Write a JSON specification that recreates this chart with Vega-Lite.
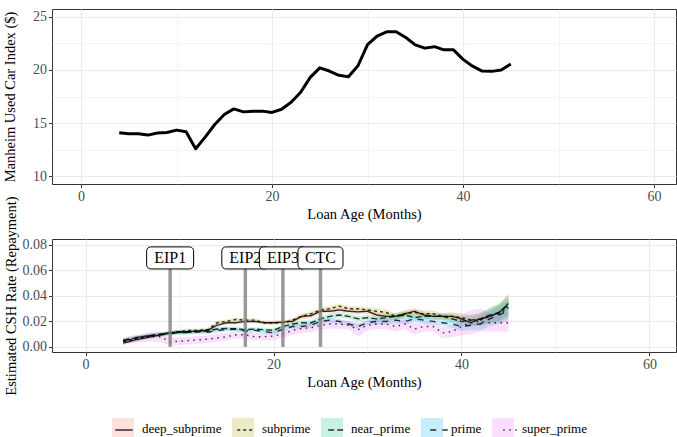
{
  "$schema": "https://vega.github.io/schema/vega-lite/v6.json",
  "background": "white",
  "padding": {"left": 2, "top": 8, "right": 0, "bottom": 0},
  "datasets": {
    "manheim": [
      {"m": 4, "idx": 14.08}, {"m": 5, "idx": 13.98}, {"m": 6, "idx": 13.98}, {"m": 7, "idx": 13.86},
      {"m": 8, "idx": 14.05}, {"m": 9, "idx": 14.1}, {"m": 10, "idx": 14.33}, {"m": 11, "idx": 14.17},
      {"m": 12, "idx": 12.57}, {"m": 13, "idx": 13.67}, {"m": 14, "idx": 14.86}, {"m": 15, "idx": 15.8},
      {"m": 16, "idx": 16.33}, {"m": 17, "idx": 16.05}, {"m": 18, "idx": 16.12}, {"m": 19, "idx": 16.12},
      {"m": 20, "idx": 16.0}, {"m": 21, "idx": 16.3}, {"m": 22, "idx": 16.95}, {"m": 23, "idx": 17.9},
      {"m": 24, "idx": 19.3}, {"m": 25, "idx": 20.2}, {"m": 26, "idx": 19.9}, {"m": 27, "idx": 19.5},
      {"m": 28, "idx": 19.36}, {"m": 29, "idx": 20.4}, {"m": 30, "idx": 22.4}, {"m": 31, "idx": 23.2},
      {"m": 32, "idx": 23.6}, {"m": 33, "idx": 23.6}, {"m": 34, "idx": 23.06}, {"m": 35, "idx": 22.37},
      {"m": 36, "idx": 22.06}, {"m": 37, "idx": 22.2}, {"m": 38, "idx": 21.9}, {"m": 39, "idx": 21.9},
      {"m": 40, "idx": 21.0}, {"m": 41, "idx": 20.36}, {"m": 42, "idx": 19.9}, {"m": 43, "idx": 19.87},
      {"m": 44, "idx": 20.0}, {"m": 45, "idx": 20.56}
    ],
    "events": [
      {"event": "EIP1", "m": 9},
      {"event": "EIP2", "m": 17},
      {"event": "EIP3", "m": 21},
      {"event": "CTC", "m": 25}
    ],
    "csh": [
      {"m":4,"g":"deep_subprime","k":1,"v":0.003,"lo":0.0015,"hi":0.0045},
      {"m":5,"g":"deep_subprime","k":1,"v":0.005,"lo":0.0035,"hi":0.0065},
      {"m":6,"g":"deep_subprime","k":1,"v":0.0065,"lo":0.005,"hi":0.008},
      {"m":7,"g":"deep_subprime","k":1,"v":0.008,"lo":0.0065,"hi":0.0095},
      {"m":8,"g":"deep_subprime","k":1,"v":0.0095,"lo":0.008,"hi":0.011},
      {"m":9,"g":"deep_subprime","k":1,"v":0.011,"lo":0.0095,"hi":0.0125},
      {"m":10,"g":"deep_subprime","k":1,"v":0.012,"lo":0.0105,"hi":0.0135},
      {"m":11,"g":"deep_subprime","k":1,"v":0.012,"lo":0.0105,"hi":0.0135},
      {"m":12,"g":"deep_subprime","k":1,"v":0.0125,"lo":0.011,"hi":0.014},
      {"m":13,"g":"deep_subprime","k":1,"v":0.013,"lo":0.0115,"hi":0.0145},
      {"m":14,"g":"deep_subprime","k":1,"v":0.017,"lo":0.0155,"hi":0.0185},
      {"m":15,"g":"deep_subprime","k":1,"v":0.019,"lo":0.0175,"hi":0.0205},
      {"m":16,"g":"deep_subprime","k":1,"v":0.019,"lo":0.0175,"hi":0.0205},
      {"m":17,"g":"deep_subprime","k":1,"v":0.02,"lo":0.0185,"hi":0.0215},
      {"m":18,"g":"deep_subprime","k":1,"v":0.02,"lo":0.0185,"hi":0.0215},
      {"m":19,"g":"deep_subprime","k":1,"v":0.019,"lo":0.0175,"hi":0.0205},
      {"m":20,"g":"deep_subprime","k":1,"v":0.019,"lo":0.0175,"hi":0.0205},
      {"m":21,"g":"deep_subprime","k":1,"v":0.0195,"lo":0.018,"hi":0.021},
      {"m":22,"g":"deep_subprime","k":1,"v":0.02,"lo":0.0185,"hi":0.0215},
      {"m":23,"g":"deep_subprime","k":1,"v":0.024,"lo":0.022,"hi":0.026},
      {"m":24,"g":"deep_subprime","k":1,"v":0.0245,"lo":0.0225,"hi":0.0265},
      {"m":25,"g":"deep_subprime","k":1,"v":0.028,"lo":0.026,"hi":0.03},
      {"m":26,"g":"deep_subprime","k":1,"v":0.028,"lo":0.026,"hi":0.03},
      {"m":27,"g":"deep_subprime","k":1,"v":0.029,"lo":0.027,"hi":0.031},
      {"m":28,"g":"deep_subprime","k":1,"v":0.028,"lo":0.026,"hi":0.03},
      {"m":29,"g":"deep_subprime","k":1,"v":0.0275,"lo":0.0255,"hi":0.0295},
      {"m":30,"g":"deep_subprime","k":1,"v":0.028,"lo":0.026,"hi":0.03},
      {"m":31,"g":"deep_subprime","k":1,"v":0.025,"lo":0.0225,"hi":0.0275},
      {"m":32,"g":"deep_subprime","k":1,"v":0.024,"lo":0.0215,"hi":0.0265},
      {"m":33,"g":"deep_subprime","k":1,"v":0.024,"lo":0.0215,"hi":0.0265},
      {"m":34,"g":"deep_subprime","k":1,"v":0.026,"lo":0.0235,"hi":0.0285},
      {"m":35,"g":"deep_subprime","k":1,"v":0.028,"lo":0.0255,"hi":0.0305},
      {"m":36,"g":"deep_subprime","k":1,"v":0.025,"lo":0.0225,"hi":0.0275},
      {"m":37,"g":"deep_subprime","k":1,"v":0.024,"lo":0.0215,"hi":0.0265},
      {"m":38,"g":"deep_subprime","k":1,"v":0.024,"lo":0.0215,"hi":0.0265},
      {"m":39,"g":"deep_subprime","k":1,"v":0.024,"lo":0.021,"hi":0.027},
      {"m":40,"g":"deep_subprime","k":1,"v":0.022,"lo":0.019,"hi":0.025},
      {"m":41,"g":"deep_subprime","k":1,"v":0.019,"lo":0.0155,"hi":0.0225},
      {"m":42,"g":"deep_subprime","k":1,"v":0.022,"lo":0.018,"hi":0.026},
      {"m":43,"g":"deep_subprime","k":1,"v":0.024,"lo":0.019,"hi":0.029},
      {"m":44,"g":"deep_subprime","k":1,"v":0.027,"lo":0.021,"hi":0.033},
      {"m":45,"g":"deep_subprime","k":1,"v":0.034,"lo":0.026,"hi":0.042},

      {"m":4,"g":"subprime","k":2,"v":0.004,"lo":0.0025,"hi":0.0055},
      {"m":5,"g":"subprime","k":2,"v":0.006,"lo":0.0045,"hi":0.0075},
      {"m":6,"g":"subprime","k":2,"v":0.0075,"lo":0.006,"hi":0.009},
      {"m":7,"g":"subprime","k":2,"v":0.009,"lo":0.0075,"hi":0.0105},
      {"m":8,"g":"subprime","k":2,"v":0.01,"lo":0.0085,"hi":0.0115},
      {"m":9,"g":"subprime","k":2,"v":0.011,"lo":0.0095,"hi":0.0125},
      {"m":10,"g":"subprime","k":2,"v":0.012,"lo":0.0105,"hi":0.0135},
      {"m":11,"g":"subprime","k":2,"v":0.013,"lo":0.0115,"hi":0.0145},
      {"m":12,"g":"subprime","k":2,"v":0.013,"lo":0.0115,"hi":0.0145},
      {"m":13,"g":"subprime","k":2,"v":0.0135,"lo":0.012,"hi":0.015},
      {"m":14,"g":"subprime","k":2,"v":0.019,"lo":0.0175,"hi":0.0205},
      {"m":15,"g":"subprime","k":2,"v":0.02,"lo":0.0185,"hi":0.0215},
      {"m":16,"g":"subprime","k":2,"v":0.0215,"lo":0.02,"hi":0.023},
      {"m":17,"g":"subprime","k":2,"v":0.021,"lo":0.0195,"hi":0.0225},
      {"m":18,"g":"subprime","k":2,"v":0.021,"lo":0.0195,"hi":0.0225},
      {"m":19,"g":"subprime","k":2,"v":0.019,"lo":0.0175,"hi":0.0205},
      {"m":20,"g":"subprime","k":2,"v":0.019,"lo":0.0175,"hi":0.0205},
      {"m":21,"g":"subprime","k":2,"v":0.019,"lo":0.0175,"hi":0.0205},
      {"m":22,"g":"subprime","k":2,"v":0.021,"lo":0.0195,"hi":0.0225},
      {"m":23,"g":"subprime","k":2,"v":0.024,"lo":0.022,"hi":0.026},
      {"m":24,"g":"subprime","k":2,"v":0.026,"lo":0.024,"hi":0.028},
      {"m":25,"g":"subprime","k":2,"v":0.029,"lo":0.027,"hi":0.031},
      {"m":26,"g":"subprime","k":2,"v":0.03,"lo":0.028,"hi":0.032},
      {"m":27,"g":"subprime","k":2,"v":0.032,"lo":0.03,"hi":0.034},
      {"m":28,"g":"subprime","k":2,"v":0.03,"lo":0.028,"hi":0.032},
      {"m":29,"g":"subprime","k":2,"v":0.03,"lo":0.028,"hi":0.032},
      {"m":30,"g":"subprime","k":2,"v":0.029,"lo":0.027,"hi":0.031},
      {"m":31,"g":"subprime","k":2,"v":0.028,"lo":0.0255,"hi":0.0305},
      {"m":32,"g":"subprime","k":2,"v":0.027,"lo":0.0245,"hi":0.0295},
      {"m":33,"g":"subprime","k":2,"v":0.024,"lo":0.0215,"hi":0.0265},
      {"m":34,"g":"subprime","k":2,"v":0.026,"lo":0.0235,"hi":0.0285},
      {"m":35,"g":"subprime","k":2,"v":0.027,"lo":0.0245,"hi":0.0295},
      {"m":36,"g":"subprime","k":2,"v":0.026,"lo":0.0235,"hi":0.0285},
      {"m":37,"g":"subprime","k":2,"v":0.026,"lo":0.0235,"hi":0.0285},
      {"m":38,"g":"subprime","k":2,"v":0.024,"lo":0.0215,"hi":0.0265},
      {"m":39,"g":"subprime","k":2,"v":0.024,"lo":0.021,"hi":0.027},
      {"m":40,"g":"subprime","k":2,"v":0.023,"lo":0.0195,"hi":0.0265},
      {"m":41,"g":"subprime","k":2,"v":0.021,"lo":0.017,"hi":0.025},
      {"m":42,"g":"subprime","k":2,"v":0.021,"lo":0.016,"hi":0.026},
      {"m":43,"g":"subprime","k":2,"v":0.024,"lo":0.018,"hi":0.03},
      {"m":44,"g":"subprime","k":2,"v":0.026,"lo":0.019,"hi":0.033},
      {"m":45,"g":"subprime","k":2,"v":0.031,"lo":0.023,"hi":0.039},

      {"m":4,"g":"near_prime","k":3,"v":0.005,"lo":0.0035,"hi":0.0065},
      {"m":5,"g":"near_prime","k":3,"v":0.0065,"lo":0.005,"hi":0.008},
      {"m":6,"g":"near_prime","k":3,"v":0.008,"lo":0.0065,"hi":0.0095},
      {"m":7,"g":"near_prime","k":3,"v":0.009,"lo":0.0075,"hi":0.0105},
      {"m":8,"g":"near_prime","k":3,"v":0.01,"lo":0.0085,"hi":0.0115},
      {"m":9,"g":"near_prime","k":3,"v":0.011,"lo":0.0095,"hi":0.0125},
      {"m":10,"g":"near_prime","k":3,"v":0.0115,"lo":0.01,"hi":0.013},
      {"m":11,"g":"near_prime","k":3,"v":0.0115,"lo":0.01,"hi":0.013},
      {"m":12,"g":"near_prime","k":3,"v":0.012,"lo":0.0105,"hi":0.0135},
      {"m":13,"g":"near_prime","k":3,"v":0.0125,"lo":0.011,"hi":0.014},
      {"m":14,"g":"near_prime","k":3,"v":0.014,"lo":0.0125,"hi":0.0155},
      {"m":15,"g":"near_prime","k":3,"v":0.0145,"lo":0.013,"hi":0.016},
      {"m":16,"g":"near_prime","k":3,"v":0.014,"lo":0.0125,"hi":0.0155},
      {"m":17,"g":"near_prime","k":3,"v":0.0135,"lo":0.012,"hi":0.015},
      {"m":18,"g":"near_prime","k":3,"v":0.014,"lo":0.0125,"hi":0.0155},
      {"m":19,"g":"near_prime","k":3,"v":0.0135,"lo":0.012,"hi":0.015},
      {"m":20,"g":"near_prime","k":3,"v":0.013,"lo":0.0115,"hi":0.0145},
      {"m":21,"g":"near_prime","k":3,"v":0.016,"lo":0.0145,"hi":0.0175},
      {"m":22,"g":"near_prime","k":3,"v":0.018,"lo":0.0165,"hi":0.0195},
      {"m":23,"g":"near_prime","k":3,"v":0.019,"lo":0.017,"hi":0.021},
      {"m":24,"g":"near_prime","k":3,"v":0.019,"lo":0.017,"hi":0.021},
      {"m":25,"g":"near_prime","k":3,"v":0.022,"lo":0.02,"hi":0.024},
      {"m":26,"g":"near_prime","k":3,"v":0.024,"lo":0.022,"hi":0.026},
      {"m":27,"g":"near_prime","k":3,"v":0.025,"lo":0.023,"hi":0.027},
      {"m":28,"g":"near_prime","k":3,"v":0.024,"lo":0.022,"hi":0.026},
      {"m":29,"g":"near_prime","k":3,"v":0.022,"lo":0.02,"hi":0.024},
      {"m":30,"g":"near_prime","k":3,"v":0.023,"lo":0.021,"hi":0.025},
      {"m":31,"g":"near_prime","k":3,"v":0.022,"lo":0.0195,"hi":0.0245},
      {"m":32,"g":"near_prime","k":3,"v":0.023,"lo":0.0205,"hi":0.0255},
      {"m":33,"g":"near_prime","k":3,"v":0.024,"lo":0.0215,"hi":0.0265},
      {"m":34,"g":"near_prime","k":3,"v":0.025,"lo":0.0225,"hi":0.0275},
      {"m":35,"g":"near_prime","k":3,"v":0.023,"lo":0.0205,"hi":0.0255},
      {"m":36,"g":"near_prime","k":3,"v":0.024,"lo":0.0215,"hi":0.0265},
      {"m":37,"g":"near_prime","k":3,"v":0.024,"lo":0.0215,"hi":0.0265},
      {"m":38,"g":"near_prime","k":3,"v":0.024,"lo":0.0215,"hi":0.0265},
      {"m":39,"g":"near_prime","k":3,"v":0.022,"lo":0.019,"hi":0.025},
      {"m":40,"g":"near_prime","k":3,"v":0.02,"lo":0.0165,"hi":0.0235},
      {"m":41,"g":"near_prime","k":3,"v":0.021,"lo":0.017,"hi":0.025},
      {"m":42,"g":"near_prime","k":3,"v":0.022,"lo":0.017,"hi":0.027},
      {"m":43,"g":"near_prime","k":3,"v":0.025,"lo":0.019,"hi":0.031},
      {"m":44,"g":"near_prime","k":3,"v":0.027,"lo":0.02,"hi":0.034},
      {"m":45,"g":"near_prime","k":3,"v":0.033,"lo":0.025,"hi":0.041},

      {"m":4,"g":"prime","k":4,"v":0.005,"lo":0.0035,"hi":0.0065},
      {"m":5,"g":"prime","k":4,"v":0.007,"lo":0.0055,"hi":0.0085},
      {"m":6,"g":"prime","k":4,"v":0.008,"lo":0.0065,"hi":0.0095},
      {"m":7,"g":"prime","k":4,"v":0.009,"lo":0.0075,"hi":0.0105},
      {"m":8,"g":"prime","k":4,"v":0.0095,"lo":0.008,"hi":0.011},
      {"m":9,"g":"prime","k":4,"v":0.0105,"lo":0.009,"hi":0.012},
      {"m":10,"g":"prime","k":4,"v":0.011,"lo":0.0095,"hi":0.0125},
      {"m":11,"g":"prime","k":4,"v":0.0115,"lo":0.01,"hi":0.013},
      {"m":12,"g":"prime","k":4,"v":0.012,"lo":0.0105,"hi":0.0135},
      {"m":13,"g":"prime","k":4,"v":0.0115,"lo":0.01,"hi":0.013},
      {"m":14,"g":"prime","k":4,"v":0.013,"lo":0.0115,"hi":0.0145},
      {"m":15,"g":"prime","k":4,"v":0.0135,"lo":0.012,"hi":0.015},
      {"m":16,"g":"prime","k":4,"v":0.014,"lo":0.0125,"hi":0.0155},
      {"m":17,"g":"prime","k":4,"v":0.0125,"lo":0.011,"hi":0.014},
      {"m":18,"g":"prime","k":4,"v":0.013,"lo":0.0115,"hi":0.0145},
      {"m":19,"g":"prime","k":4,"v":0.012,"lo":0.0105,"hi":0.0135},
      {"m":20,"g":"prime","k":4,"v":0.011,"lo":0.0095,"hi":0.0125},
      {"m":21,"g":"prime","k":4,"v":0.014,"lo":0.0125,"hi":0.0155},
      {"m":22,"g":"prime","k":4,"v":0.016,"lo":0.0145,"hi":0.0175},
      {"m":23,"g":"prime","k":4,"v":0.016,"lo":0.014,"hi":0.018},
      {"m":24,"g":"prime","k":4,"v":0.017,"lo":0.015,"hi":0.019},
      {"m":25,"g":"prime","k":4,"v":0.02,"lo":0.018,"hi":0.022},
      {"m":26,"g":"prime","k":4,"v":0.021,"lo":0.019,"hi":0.023},
      {"m":27,"g":"prime","k":4,"v":0.02,"lo":0.018,"hi":0.022},
      {"m":28,"g":"prime","k":4,"v":0.018,"lo":0.016,"hi":0.02},
      {"m":29,"g":"prime","k":4,"v":0.016,"lo":0.014,"hi":0.018},
      {"m":30,"g":"prime","k":4,"v":0.019,"lo":0.017,"hi":0.021},
      {"m":31,"g":"prime","k":4,"v":0.02,"lo":0.0175,"hi":0.0225},
      {"m":32,"g":"prime","k":4,"v":0.02,"lo":0.0175,"hi":0.0225},
      {"m":33,"g":"prime","k":4,"v":0.021,"lo":0.0185,"hi":0.0235},
      {"m":34,"g":"prime","k":4,"v":0.02,"lo":0.0175,"hi":0.0225},
      {"m":35,"g":"prime","k":4,"v":0.022,"lo":0.0195,"hi":0.0245},
      {"m":36,"g":"prime","k":4,"v":0.021,"lo":0.0185,"hi":0.0235},
      {"m":37,"g":"prime","k":4,"v":0.02,"lo":0.0175,"hi":0.0225},
      {"m":38,"g":"prime","k":4,"v":0.019,"lo":0.0165,"hi":0.0215},
      {"m":39,"g":"prime","k":4,"v":0.018,"lo":0.015,"hi":0.021},
      {"m":40,"g":"prime","k":4,"v":0.016,"lo":0.0125,"hi":0.0195},
      {"m":41,"g":"prime","k":4,"v":0.017,"lo":0.013,"hi":0.021},
      {"m":42,"g":"prime","k":4,"v":0.018,"lo":0.013,"hi":0.023},
      {"m":43,"g":"prime","k":4,"v":0.022,"lo":0.016,"hi":0.028},
      {"m":44,"g":"prime","k":4,"v":0.025,"lo":0.018,"hi":0.032},
      {"m":45,"g":"prime","k":4,"v":0.029,"lo":0.021,"hi":0.037},

      {"m":4,"g":"super_prime","k":5,"v":0.0045,"lo":0.0015,"hi":0.0075},
      {"m":5,"g":"super_prime","k":5,"v":0.006,"lo":0.003,"hi":0.009},
      {"m":6,"g":"super_prime","k":5,"v":0.007,"lo":0.004,"hi":0.01},
      {"m":7,"g":"super_prime","k":5,"v":0.008,"lo":0.004,"hi":0.012},
      {"m":8,"g":"super_prime","k":5,"v":0.008,"lo":0.004,"hi":0.012},
      {"m":9,"g":"super_prime","k":5,"v":0.004,"lo":0.001,"hi":0.007},
      {"m":10,"g":"super_prime","k":5,"v":0.0045,"lo":0.0015,"hi":0.0075},
      {"m":11,"g":"super_prime","k":5,"v":0.005,"lo":0.002,"hi":0.008},
      {"m":12,"g":"super_prime","k":5,"v":0.0055,"lo":0.0025,"hi":0.0085},
      {"m":13,"g":"super_prime","k":5,"v":0.006,"lo":0.003,"hi":0.009},
      {"m":14,"g":"super_prime","k":5,"v":0.007,"lo":0.004,"hi":0.01},
      {"m":15,"g":"super_prime","k":5,"v":0.008,"lo":0.005,"hi":0.011},
      {"m":16,"g":"super_prime","k":5,"v":0.0095,"lo":0.0065,"hi":0.0125},
      {"m":17,"g":"super_prime","k":5,"v":0.0095,"lo":0.0065,"hi":0.0125},
      {"m":18,"g":"super_prime","k":5,"v":0.008,"lo":0.005,"hi":0.011},
      {"m":19,"g":"super_prime","k":5,"v":0.008,"lo":0.005,"hi":0.011},
      {"m":20,"g":"super_prime","k":5,"v":0.0085,"lo":0.0055,"hi":0.0115},
      {"m":21,"g":"super_prime","k":5,"v":0.01,"lo":0.007,"hi":0.013},
      {"m":22,"g":"super_prime","k":5,"v":0.013,"lo":0.0095,"hi":0.0165},
      {"m":23,"g":"super_prime","k":5,"v":0.0145,"lo":0.011,"hi":0.018},
      {"m":24,"g":"super_prime","k":5,"v":0.015,"lo":0.0115,"hi":0.0185},
      {"m":25,"g":"super_prime","k":5,"v":0.017,"lo":0.0135,"hi":0.0205},
      {"m":26,"g":"super_prime","k":5,"v":0.018,"lo":0.0145,"hi":0.0215},
      {"m":27,"g":"super_prime","k":5,"v":0.018,"lo":0.0145,"hi":0.0215},
      {"m":28,"g":"super_prime","k":5,"v":0.017,"lo":0.0135,"hi":0.0205},
      {"m":29,"g":"super_prime","k":5,"v":0.0135,"lo":0.008,"hi":0.019},
      {"m":30,"g":"super_prime","k":5,"v":0.017,"lo":0.013,"hi":0.021},
      {"m":31,"g":"super_prime","k":5,"v":0.018,"lo":0.014,"hi":0.022},
      {"m":32,"g":"super_prime","k":5,"v":0.018,"lo":0.014,"hi":0.022},
      {"m":33,"g":"super_prime","k":5,"v":0.016,"lo":0.012,"hi":0.02},
      {"m":34,"g":"super_prime","k":5,"v":0.018,"lo":0.014,"hi":0.022},
      {"m":35,"g":"super_prime","k":5,"v":0.014,"lo":0.0095,"hi":0.0185},
      {"m":36,"g":"super_prime","k":5,"v":0.016,"lo":0.012,"hi":0.02},
      {"m":37,"g":"super_prime","k":5,"v":0.016,"lo":0.012,"hi":0.02},
      {"m":38,"g":"super_prime","k":5,"v":0.011,"lo":0.0065,"hi":0.0155},
      {"m":39,"g":"super_prime","k":5,"v":0.012,"lo":0.0075,"hi":0.0165},
      {"m":40,"g":"super_prime","k":5,"v":0.016,"lo":0.009,"hi":0.025},
      {"m":41,"g":"super_prime","k":5,"v":0.019,"lo":0.01,"hi":0.029},
      {"m":42,"g":"super_prime","k":5,"v":0.02,"lo":0.012,"hi":0.03},
      {"m":43,"g":"super_prime","k":5,"v":0.019,"lo":0.012,"hi":0.027},
      {"m":44,"g":"super_prime","k":5,"v":0.019,"lo":0.012,"hi":0.026},
      {"m":45,"g":"super_prime","k":5,"v":0.019,"lo":0.012,"hi":0.026}
    ]
  },
  "config": {
    "font": "Liberation Serif",
    "view": {"stroke": "#333333", "strokeWidth": 1},
    "axis": {
      "domain": false,
      "gridColor": "#EBEBEB",
      "tickColor": "#333333",
      "tickSize": 3.5,
      "tickWidth": 1,
      "labelColor": "#4D4D4D",
      "labelFont": "Liberation Serif",
      "labelFontSize": 14,
      "labelPadding": 2,
      "labelOverlap": false,
      "labelFlush": false,
      "titleFont": "Liberation Serif",
      "titleFontSize": 14.5,
      "titleFontWeight": "normal",
      "titleColor": "#000000",
      "titlePadding": 4
    },
    "legend": {
      "labelFont": "Liberation Serif",
      "labelFontSize": 13,
      "labelColor": "#000000"
    }
  },
  "bounds": "flush",
  "spacing": 55,
  "vconcat": [
    {
      "width": 624,
      "height": 175,
      "data": {"name": "manheim"},
      "mark": {"type": "line", "color": "#000000", "strokeWidth": 3, "strokeJoin": "round"},
      "encoding": {
        "x": {
          "field": "m", "type": "quantitative",
          "scale": {"domain": [-3.04, 62.3], "nice": false, "zero": false},
          "axis": {
            "title": "Loan Age (Months)",
            "values": [0, 10, 20, 30, 40, 50, 60],
            "labelExpr": "datum.value % 20 === 0 ? datum.label : ''",
            "gridWidth": {"condition": {"test": "datum.value % 20 !== 0", "value": 0.55}, "value": 1.1},
            "tickOpacity": {"condition": {"test": "datum.value % 20 !== 0", "value": 0}, "value": 1}
          }
        },
        "y": {
          "field": "idx", "type": "quantitative",
          "scale": {"domain": [9.25, 25.75], "nice": false, "zero": false},
          "axis": {
            "title": "Manheim Used Car Index ($)",
            "titlePadding": 15,
            "values": [10, 12.5, 15, 17.5, 20, 22.5, 25],
            "labelExpr": "datum.value % 5 === 0 ? datum.label : ''",
            "gridWidth": {"condition": {"test": "datum.value % 5 !== 0", "value": 0.55}, "value": 1.1},
            "tickOpacity": {"condition": {"test": "datum.value % 5 !== 0", "value": 0}, "value": 1}
          }
        }
      }
    },
    {
      "width": 624,
      "height": 113,
      "encoding": {
        "x": {
          "field": "m", "type": "quantitative",
          "scale": {"domain": [-3.04, 62.3], "nice": false, "zero": false},
          "axis": {
            "title": "Loan Age (Months)",
            "values": [0, 10, 20, 30, 40, 50, 60],
            "labelExpr": "datum.value % 20 === 0 ? datum.label : ''",
            "gridWidth": {"condition": {"test": "datum.value % 20 !== 0", "value": 0.55}, "value": 1.1},
            "tickOpacity": {"condition": {"test": "datum.value % 20 !== 0", "value": 0}, "value": 1}
          }
        }
      },
      "resolve": {"axis": {"y": "independent"}},
      "layer": [
        {
          "data": {"name": "csh"},
          "mark": {"type": "area", "fillOpacity": 0.22, "strokeWidth": 0},
          "encoding": {
            "y": {
              "field": "lo", "type": "quantitative",
              "scale": {"domain": [-0.004, 0.0847], "nice": false, "zero": false},
              "axis": {
                "orient": "left",
                "title": "Estimated CSH Rate (Repayment)",
                "titlePadding": 4,
                "values": [0, 0.02, 0.04, 0.06, 0.08],
                "format": ".2f",
                "gridWidth": 1.1
              }
            },
            "y2": {"field": "hi"},
            "color": {
              "field": "g", "type": "nominal",
              "scale": {
                "domain": ["deep_subprime", "subprime", "near_prime", "prime", "super_prime"],
                "range": ["#F8766D", "#A3A500", "#00BF7D", "#00B0F6", "#E76BF3"]
              },
              "legend": {
                "title": null,
                "orient": "none",
                "legendX": 60,
                "legendY": 179,
                "direction": "horizontal",
                "columns": 5,
                "padding": 0,
                "symbolType": "square",
                "symbolSize": 484,
                "symbolOpacity": 0.22,
                "symbolStrokeWidth": 0,
                "labelOffset": 8,
                "columnPadding": 10
              }
            }
          }
        },
        {
          "data": {"name": "csh"},
          "mark": {"type": "line", "color": "#000000", "opacity": 0.8, "strokeWidth": 1.4},
          "encoding": {
            "y": {
              "field": "v", "type": "quantitative",
              "axis": {
                "orient": "left",
                "title": null,
                "values": [0.01, 0.03, 0.05, 0.07],
                "labels": false,
                "ticks": false,
                "gridWidth": 0.55
              }
            },
            "strokeDash": {
              "field": "g", "type": "nominal",
              "sort": {"field": "k", "op": "min"},
              "scale": {"range": [[1, 0], [3, 3], [6, 3], [6, 6], [1.5, 4.5]]},
              "legend": {
                "title": null,
                "orient": "none",
                "legendX": 60,
                "legendY": 179,
                "direction": "horizontal",
                "columns": 5,
                "padding": 0,
                "symbolType": "M-0.8,0H0.8",
                "symbolSize": 484,
                "symbolStrokeColor": "#000000",
                "symbolStrokeWidth": 1.4,
                "labelOpacity": 0,
                "labelOffset": 8,
                "columnPadding": 10
              }
            }
          }
        },
        {
          "data": {"name": "events"},
          "mark": {"type": "rule", "color": "#7f7f7f", "strokeWidth": 3.5, "opacity": 0.8},
          "encoding": {
            "x": {"field": "m", "type": "quantitative"},
            "y": {"datum": 0, "axis": null},
            "y2": {"datum": 0.07}
          }
        },
        {
          "data": {"name": "events"},
          "transform": [{"filter": "datum.event === 'EIP1'"}],
          "mark": {"type": "bar", "width": 47, "fill": "white", "stroke": "#000000", "strokeWidth": 1, "cornerRadius": 4},
          "encoding": {"x": {"field": "m", "type": "quantitative"}, "y": {"datum": 0.0612, "axis": null}, "y2": {"datum": 0.0785}}
        },
        {
          "data": {"name": "events"},
          "transform": [{"filter": "datum.event === 'EIP1'"}],
          "mark": {"type": "text", "fontSize": 16, "color": "#000000", "baseline": "middle", "align": "center"},
          "encoding": {"x": {"field": "m", "type": "quantitative"}, "y": {"datum": 0.0698, "axis": null}, "text": {"field": "event"}}
        },
        {
          "data": {"name": "events"},
          "transform": [{"filter": "datum.event === 'EIP2'"}],
          "mark": {"type": "bar", "width": 47, "fill": "white", "stroke": "#000000", "strokeWidth": 1, "cornerRadius": 4},
          "encoding": {"x": {"field": "m", "type": "quantitative"}, "y": {"datum": 0.0612, "axis": null}, "y2": {"datum": 0.0785}}
        },
        {
          "data": {"name": "events"},
          "transform": [{"filter": "datum.event === 'EIP2'"}],
          "mark": {"type": "text", "fontSize": 16, "color": "#000000", "baseline": "middle", "align": "center"},
          "encoding": {"x": {"field": "m", "type": "quantitative"}, "y": {"datum": 0.0698, "axis": null}, "text": {"field": "event"}}
        },
        {
          "data": {"name": "events"},
          "transform": [{"filter": "datum.event === 'EIP3'"}],
          "mark": {"type": "bar", "width": 47, "fill": "white", "stroke": "#000000", "strokeWidth": 1, "cornerRadius": 4},
          "encoding": {"x": {"field": "m", "type": "quantitative"}, "y": {"datum": 0.0612, "axis": null}, "y2": {"datum": 0.0785}}
        },
        {
          "data": {"name": "events"},
          "transform": [{"filter": "datum.event === 'EIP3'"}],
          "mark": {"type": "text", "fontSize": 16, "color": "#000000", "baseline": "middle", "align": "center"},
          "encoding": {"x": {"field": "m", "type": "quantitative"}, "y": {"datum": 0.0698, "axis": null}, "text": {"field": "event"}}
        },
        {
          "data": {"name": "events"},
          "transform": [{"filter": "datum.event === 'CTC'"}],
          "mark": {"type": "bar", "width": 45, "fill": "white", "stroke": "#000000", "strokeWidth": 1, "cornerRadius": 4},
          "encoding": {"x": {"field": "m", "type": "quantitative"}, "y": {"datum": 0.0612, "axis": null}, "y2": {"datum": 0.0785}}
        },
        {
          "data": {"name": "events"},
          "transform": [{"filter": "datum.event === 'CTC'"}],
          "mark": {"type": "text", "fontSize": 16, "color": "#000000", "baseline": "middle", "align": "center"},
          "encoding": {"x": {"field": "m", "type": "quantitative"}, "y": {"datum": 0.0698, "axis": null}, "text": {"field": "event"}}
        }
      ]
    }
  ],
  "resolve": {"scale": {"color": "independent", "strokeDash": "independent"}, "legend": {"color": "independent", "strokeDash": "independent"}}
}
